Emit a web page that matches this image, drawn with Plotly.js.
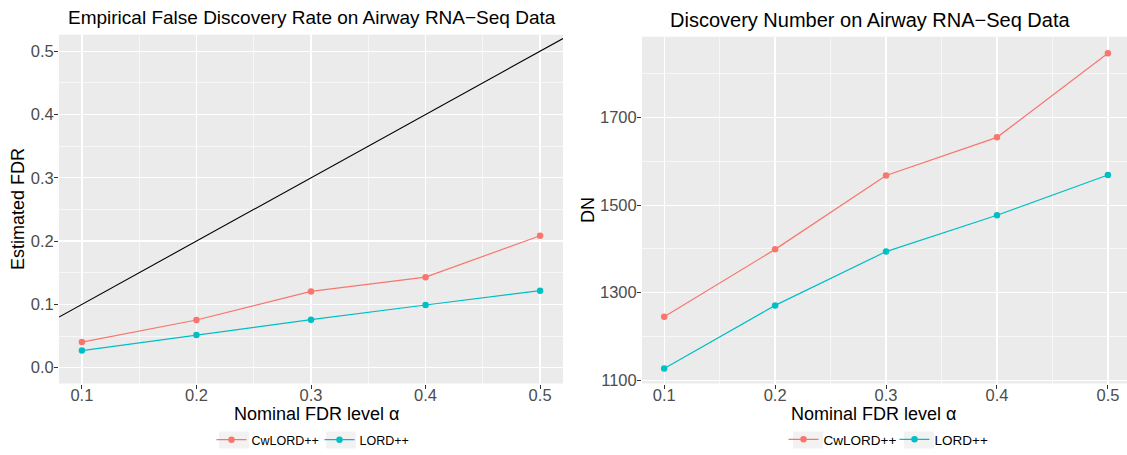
<!DOCTYPE html>
<html>
<head>
<meta charset="utf-8">
<script src="https://cdn.plot.ly/plotly-3.0.1.min.js"></script>
<style>html,body{margin:0;padding:0;background:#fff;}#chart{width:1127px;height:455px;}</style>
</head>
<body>
<div id="chart"></div>
<script>
// ---- data ----
const alphaLevels = [0.1, 0.2, 0.3, 0.4, 0.5];
const fdrCwLORD = [0.0405, 0.0753, 0.1205, 0.1430, 0.2085];
const fdrLORD = [0.0270, 0.0516, 0.0758, 0.0990, 0.1216];
const dnCwLORD = [1245, 1399, 1568, 1655, 1847];
const dnLORD = [1127, 1271, 1394, 1477, 1569];
const refLineX = [0.08, 0.52];
const refLineY = [0.08, 0.52];
const seriesNames = ["CwLORD++", "LORD++"];
const fdrTicks = [0.0, 0.1, 0.2, 0.3, 0.4, 0.5];
const dnTicks = [1100, 1300, 1500, 1700];

const RED = "#F8766D", TEAL = "#00BFC4";
const FONT = "Liberation Sans, Arial, Helvetica, sans-serif";
const W = 1127, H = 455;
const px = v => v / W, py = v => 1 - v / H;

function series(x, y, name, color, xa, ya, leg) {
  return {
    x: x, y: y, name: name, type: "scatter", mode: "lines+markers",
    line: {color: color, width: 1.2}, marker: {color: color, size: 6.5},
    xaxis: xa, yaxis: ya, legend: leg, showlegend: true
  };
}

const traces = [
  {x: refLineX, y: refLineY, type: "scatter", mode: "lines", line: {color: "#000", width: 1.1},
   xaxis: "x", yaxis: "y", showlegend: false, hoverinfo: "skip"},
  series(alphaLevels, fdrCwLORD, seriesNames[0], RED, "x", "y", "legend"),
  series(alphaLevels, fdrLORD, seriesNames[1], TEAL, "x", "y", "legend"),
  series(alphaLevels, dnCwLORD, seriesNames[0], RED, "x2", "y2", "legend2"),
  series(alphaLevels, dnLORD, seriesNames[1], TEAL, "x2", "y2", "legend2")
];

const tickFont = {family: FONT, size: 16.5, color: "#4d4d4d"};
function xAxis(domain, range, anchor) {
  return {
    domain: domain, range: range, anchor: anchor,
    tickvals: alphaLevels, ticktext: alphaLevels.map(v => v.toFixed(1)),
    ticks: "outside", ticklen: 4, tickcolor: "#333", tickwidth: 1, ticklabelstandoff: -7,
    tickfont: tickFont, showgrid: true, gridcolor: "#fff", gridwidth: 1.3,
    zeroline: false, showline: false,
    minor: {tick0: 0.05, dtick: 0.1, showgrid: true, gridcolor: "#fff", gridwidth: 0.6, ticks: ""}
  };
}
function yAxis(domain, range, anchor, tickvals, fmt, minorTick0, minorDtick) {
  return {
    domain: domain, range: range, anchor: anchor,
    tickvals: tickvals, ticktext: tickvals.map(fmt),
    ticks: "outside", ticklen: 4, tickcolor: "#333", tickwidth: 1, ticklabelstandoff: -3,
    tickfont: tickFont, showgrid: true, gridcolor: "#fff", gridwidth: 1.3,
    zeroline: false, showline: false,
    minor: {tick0: minorTick0, dtick: minorDtick, showgrid: true, gridcolor: "#fff", gridwidth: 0.6, ticks: ""}
  };
}

const titleFont = {family: FONT, size: 19, color: "#000"};
const axTitleFont = {family: FONT, size: 18, color: "#000"};

function keyBox(x0) {
  return {type: "rect", xref: "paper", yref: "paper", layer: "below",
          x0: px(x0), x1: px(x0 + 30), y0: py(448.5), y1: py(431.5),
          fillcolor: "#F2F2F2", line: {width: 0}};
}

const layout = {
  width: W, height: H,
  margin: {l: 0, r: 0, t: 0, b: 0},
  paper_bgcolor: "#fff", plot_bgcolor: "#EBEBEB",
  font: {family: FONT},
  xaxis: xAxis([px(59), px(563)], [0.08, 0.52], "y"),
  yaxis: yAxis([py(383.5), py(34.7)], [-0.025, 0.526], "x", fdrTicks, v => v.toFixed(1), 0.05, 0.1),
  xaxis2: xAxis([px(642), 1], [0.08, 0.5172], "y2"),
  yaxis2: yAxis([py(383.5), py(36.7)], [1092.5, 1885], "x2", dnTicks, v => String(v), 1200, 200),
  legend: {orientation: "h", x: px(319.5), xanchor: "center", y: 0, yanchor: "bottom",
           font: {family: FONT, size: 12.5, color: "#000"}, bgcolor: "rgba(0,0,0,0)",
           itemwidth: 30, traceorder: "normal", entrywidth: 63, entrywidthmode: "pixels"},
  legend2: {orientation: "h", x: px(894.5), xanchor: "center", y: 0, yanchor: "bottom",
           font: {family: FONT, size: 13.5, color: "#000"}, bgcolor: "rgba(0,0,0,0)",
           itemwidth: 30, traceorder: "normal", entrywidth: 66, entrywidthmode: "pixels"},
  shapes: [keyBox(219), keyBox(326), keyBox(793), keyBox(904)],
  annotations: [
    {text: "Empirical False Discovery Rate on Airway RNA\u2212Seq Data", xref: "paper", yref: "paper",
     x: px(312), y: py(18), xanchor: "center", yanchor: "middle", showarrow: false, font: titleFont},
    {text: "Discovery Number on Airway RNA\u2212Seq Data", xref: "paper", yref: "paper",
     x: px(870), y: py(20), xanchor: "center", yanchor: "middle", showarrow: false,
     font: {family: FONT, size: 20, color: "#000"}},
    {text: "Nominal FDR level \u03b1", xref: "paper", yref: "paper",
     x: px(316), y: py(414), xanchor: "center", yanchor: "middle", showarrow: false, font: axTitleFont},
    {text: "Nominal FDR level \u03b1", xref: "paper", yref: "paper",
     x: px(873), y: py(414), xanchor: "center", yanchor: "middle", showarrow: false, font: axTitleFont},
    {text: "Estimated FDR", xref: "paper", yref: "paper", textangle: -90,
     x: px(18), y: py(209), xanchor: "center", yanchor: "middle", showarrow: false, font: axTitleFont},
    {text: "DN", xref: "paper", yref: "paper", textangle: -90,
     x: px(588), y: py(210), xanchor: "center", yanchor: "middle", showarrow: false, font: axTitleFont}
  ]
};

Plotly.newPlot("chart", traces, layout, {displayModeBar: false, staticPlot: true});
</script>
</body>
</html>
